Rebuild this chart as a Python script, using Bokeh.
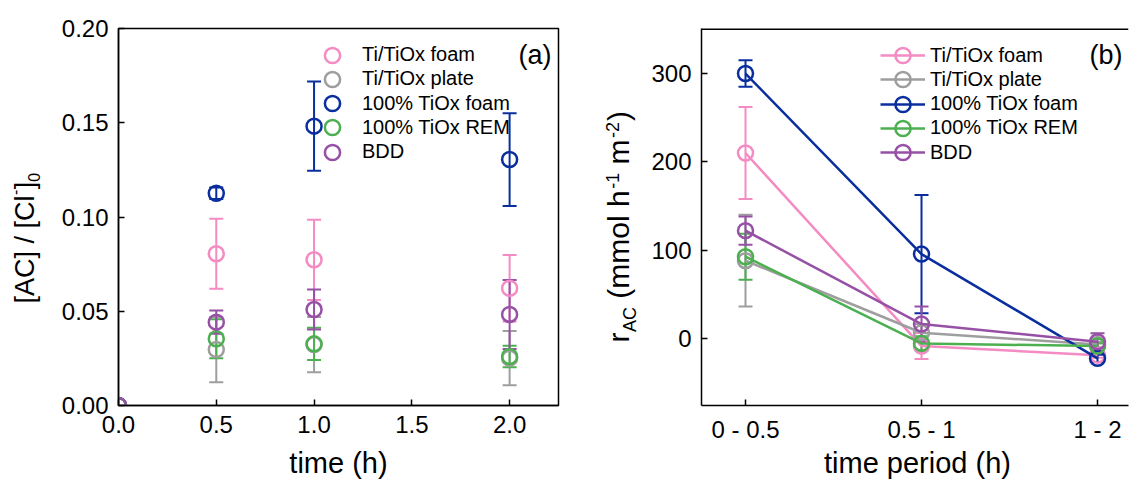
import math
from bokeh.plotting import figure
from bokeh.models import (ColumnDataSource, Whisker, TeeHead, Legend, LegendItem,
                          FixedTicker, Label, Range1d, Span)
from bokeh.layouts import row, column
from bokeh.embed import file_html
from bokeh.resources import INLINE

# ---------------- data ----------------
series_names = ["Ti/TiOx foam", "Ti/TiOx plate", "100% TiOx foam", "100% TiOx REM", "BDD"]
series_colors = ["#F48BC3", "#9E9E9E", "#0A2E9E", "#4CAF50", "#9650A6"]

# panel (a): [AC]/[Cl-]0 versus time
times_h = [0.0, 0.5, 1.0, 2.0]
ac_ti_foam = [0.0, 0.0805, 0.0773, 0.0622]
ac_ti_plate = [0.0, 0.0297, 0.0323, 0.0251]
ac_tiox_foam = [0.0, 0.1126, 0.1482, 0.1305]
ac_tiox_rem = [0.0, 0.0354, 0.0327, 0.0260]
ac_bdd = [0.0, 0.0442, 0.0509, 0.0483]
ac_err_ti_foam = [0.0, 0.0186, 0.0213, 0.0177]
ac_err_ti_plate = [0.0, 0.0173, 0.0146, 0.0144]
ac_err_tiox_foam = [0.0, 0.003, 0.0237, 0.0246]
ac_err_tiox_rem = [0.0, 0.0103, 0.0086, 0.0057]
ac_err_bdd = [0.0, 0.0062, 0.0106, 0.0183]

# panel (b): rate per time period
periods = ["0 - 0.5", "0.5 - 1", "1 - 2"]
period_pos = [0, 1, 2]
r_ti_foam = [210.0, -8.7, -19.0]
r_ti_plate = [88.0, 6.4, -7.0]
r_tiox_foam = [300.0, 95.5, -22.6]
r_tiox_rem = [92.5, -5.7, -8.7]
r_bdd = [122.0, 16.2, -3.8]
r_err_ti_foam = [52.0, 14.7, 3.0]
r_err_ti_plate = [52.0, 10.0, 3.0]
r_err_tiox_foam = [15.0, 67.0, 4.0]
r_err_tiox_rem = [26.0, 8.0, 3.0]
r_err_bdd = [16.0, 20.0, 9.5]

a_xticks = [0.0, 0.5, 1.0, 1.5, 2.0]
a_xlabels = ["0.0", "0.5", "1.0", "1.5", "2.0"]
a_yticks = [0.0, 0.05, 0.10, 0.15, 0.20]
a_ylabels = ["0.00", "0.05", "0.10", "0.15", "0.20"]
b_yticks = [0, 100, 200, 300]
b_ylabels = ["0", "100", "200", "300"]
a_xtitle = "time (h)"
b_xtitle = "time period (h)"

ac_values = [ac_ti_foam, ac_ti_plate, ac_tiox_foam, ac_tiox_rem, ac_bdd]
ac_errors = [ac_err_ti_foam, ac_err_ti_plate, ac_err_tiox_foam, ac_err_tiox_rem, ac_err_bdd]
r_values = [r_ti_foam, r_ti_plate, r_tiox_foam, r_tiox_rem, r_bdd]
r_errors = [r_err_ti_foam, r_err_ti_plate, r_err_tiox_foam, r_err_tiox_rem, r_err_bdd]

FONT = "Liberation Sans"
TICK_SIZE = "24px"
XTITLE_SIZE = "29px"
LEG_SIZE = "20px"
H_TOTAL = 479
H = 445                 # height of the row holding the panels
STRIP_H = H_TOTAL - H   # strip below holding the x-axis titles
TOP, BOTTOM = 28, 40
FRAME_BOTTOM = H - BOTTOM
FRAME_H = FRAME_BOTTOM - TOP

# Arial / Liberation Sans advance widths (em) for laying out rotated titles
ADV = {"r": .333, "A": .667, "C": .722, "(": .333, ")": .333, "m": .833, "o": .556,
       "l": .222, " ": .278, "h": .556, "-": .333, "1": .556, "2": .556, "0": .556,
       "[": .278, "]": .278, "/": .278}


def tw(s, size):
    return sum(ADV.get(c, .556) for c in s) * size


def style(p):
    p.outline_line_color = "black"
    p.outline_line_width = 1.5
    p.outline_line_alpha = 1.0
    p.grid.visible = False
    p.background_fill_color = "white"
    p.border_fill_color = "white"
    for ax in p.axis:
        ax.major_tick_in = 6
        ax.major_tick_out = 0
        ax.minor_tick_in = 0
        ax.minor_tick_out = 0
        ax.axis_line_color = "black"
        ax.axis_line_width = 1.5
        ax.major_tick_line_color = "black"
        ax.major_tick_line_width = 1.5
        ax.major_label_text_font = FONT
        ax.major_label_text_font_size = TICK_SIZE
        ax.major_label_text_color = "black"
        ax.major_label_text_line_height = 0.85
    for ax in p.xaxis:
        ax.major_label_standoff = 10
    for ax in p.yaxis:
        ax.major_label_standoff = 10


def add_whisker(p, xs, ys, es, color):
    keep = [i for i, e in enumerate(es) if e > 0]
    src = ColumnDataSource(dict(
        base=[xs[i] for i in keep],
        upper=[ys[i] + es[i] for i in keep],
        lower=[ys[i] - es[i] for i in keep],
    ))
    w = Whisker(base="base", upper="upper", lower="lower", source=src,
                line_color=color, line_width=2,
                upper_head=TeeHead(size=14, line_color=color, line_width=2),
                lower_head=TeeHead(size=14, line_color=color, line_width=2))
    p.add_layout(w)


def add_legend_rows(p, items, frame_left, box_left, row0, row_step, glyph_w, standoff):
    for i, it in enumerate(items):
        center = row0 + i * row_step
        leg = Legend(items=[it], location=(box_left - frame_left, FRAME_BOTTOM - center - 19),
                     glyph_width=glyph_w, glyph_height=38, spacing=0, padding=0, margin=0,
                     label_standoff=standoff, label_text_font=FONT,
                     label_text_font_size=LEG_SIZE, label_text_color="black",
                     label_height=20, border_line_alpha=0, background_fill_alpha=0)
        p.add_layout(leg)


def blank_fig(width, height, yr, borders):
    t = figure(width=width, height=height, output_backend="svg", toolbar_location=None,
               x_range=Range1d(0, width), y_range=Range1d(0, yr),
               min_border_left=0, min_border_right=0, min_border_top=borders[0],
               min_border_bottom=borders[1], x_axis_location=None, y_axis_location=None)
    t.outline_line_color = None
    t.grid.visible = False
    t.background_fill_color = "white"
    t.border_fill_color = "white"
    return t


def title_fig(width, pieces, start_y):
    # narrow companion figure holding a rotated axis title (frame aligned with the panels)
    t = blank_fig(width, H, FRAME_H, (TOP, BOTTOM))
    along = 0.0
    for txt, fs, cx, gap_before in pieces:
        along += gap_before
        t.add_layout(Label(x=cx, y=FRAME_BOTTOM - (start_y - along), text=txt,
                           angle=math.pi / 2, text_font=FONT, text_font_size=f"{fs}px",
                           text_align="left", text_baseline="middle",
                           text_color="black"))
        along += tw(txt, fs)
    return t


# ---------------- y-title of panel (a) ----------------
FA = 27
ta = title_fig(48, [
    ("[AC] / [Cl", FA, 24, 0),
    ("-", 16, 14, 0.5),
    ("]", FA, 24, 0.5),
    ("0", 16, 33, 0),
], start_y=303)

# ---------------- panel (a) ----------------
p1 = figure(width=550, height=H, output_backend="svg", toolbar_location=None,
            x_range=Range1d(0, 2.25), y_range=Range1d(0, 0.20),
            min_border_left=70, min_border_right=40, min_border_top=TOP, min_border_bottom=BOTTOM)
p1.xaxis.ticker = FixedTicker(ticks=a_xticks)
p1.yaxis.ticker = FixedTicker(ticks=a_yticks)
p1.xaxis.major_label_overrides = dict(zip(a_xticks, a_xlabels))
p1.yaxis.major_label_overrides = dict(zip(a_yticks, a_ylabels))
style(p1)

items1 = []
for name, color, vals, errs in zip(series_names, series_colors, ac_values, ac_errors):
    add_whisker(p1, times_h, vals, errs, color)
    r = p1.scatter(times_h, vals, marker="circle", size=15, fill_color=None,
                   line_color=color, line_width=2.5)
    items1.append(LegendItem(label=name, renderers=[r]))
add_legend_rows(p1, items1, frame_left=118, box_left=313, row0=54.5, row_step=24.3,
                glyph_w=38, standoff=11)
p1.add_layout(Label(x=2.045, y=0.1857, text="(a)", text_font=FONT, text_font_size="27px",
                    text_baseline="middle", text_align="left", text_color="black"))

# ---------------- y-title of panel (b) ----------------
FB = 30
tb = title_fig(47, [
    ("r", FB, 20.3, 0),
    ("AC", 18, 31.6, 0.5),
    ("(mmol h", FB, 20.3, tw(" ", FB)),
    ("-1", 18, 13.6, 1.5),
    ("m", FB, 20.3, tw(" ", FB)),
    ("-2", 18, 13.6, 1.5),
    (")", FB, 20.3, 1.0),
], start_y=342)

# ---------------- panel (b) ----------------
bx0, bx1 = -0.25, 2.176
by0, by1 = -76, 351
p2 = figure(width=484, height=H, output_backend="svg", toolbar_location=None,
            x_range=Range1d(bx0, bx1), y_range=Range1d(by0, by1),
            min_border_left=56, min_border_right=1, min_border_top=TOP, min_border_bottom=BOTTOM)
p2.xaxis.ticker = FixedTicker(ticks=period_pos)
p2.xaxis.major_label_overrides = dict(zip(period_pos, periods))
p2.yaxis.ticker = FixedTicker(ticks=b_yticks)
p2.yaxis.major_label_overrides = dict(zip(b_yticks, b_ylabels))
style(p2)
# the reference frame runs past the right edge of the picture: draw only its top side
p2.outline_line_color = None
p2.add_layout(Span(location=by1, dimension="width", line_color="black", line_width=3))

items2 = []
for name, color, vals, errs in zip(series_names, series_colors, r_values, r_errors):
    ln = p2.line(period_pos, vals, line_color=color, line_width=2.5)
    add_whisker(p2, period_pos, vals, errs, color)
    sc = p2.scatter(period_pos, vals, marker="circle", size=15, fill_color=None,
                    line_color=color, line_width=2.5)
    items2.append(LegendItem(label=name, renderers=[ln, sc]))
add_legend_rows(p2, items2, frame_left=701, box_left=880, row0=55, row_step=24.3,
                glyph_w=45, standoff=5)
p2.add_layout(Label(x=1.955, y=320.7, text="(b)", text_font=FONT, text_font_size="27px",
                    text_baseline="middle", text_align="left", text_color="black"))

# ---------------- strip with the x-axis titles ----------------
strip = blank_fig(1129, STRIP_H, STRIP_H, (0, 0))
for txt, cx in [(a_xtitle, 338), (b_xtitle, 917)]:
    strip.add_layout(Label(x=cx, y=H_TOTAL - 462, text=txt, text_font=FONT,
                           text_font_size=XTITLE_SIZE, text_align="center",
                           text_baseline="middle", text_color="black"))

layout = column(row(ta, p1, tb, p2), strip)
open("out.html", "w").write(file_html(layout, INLINE))
